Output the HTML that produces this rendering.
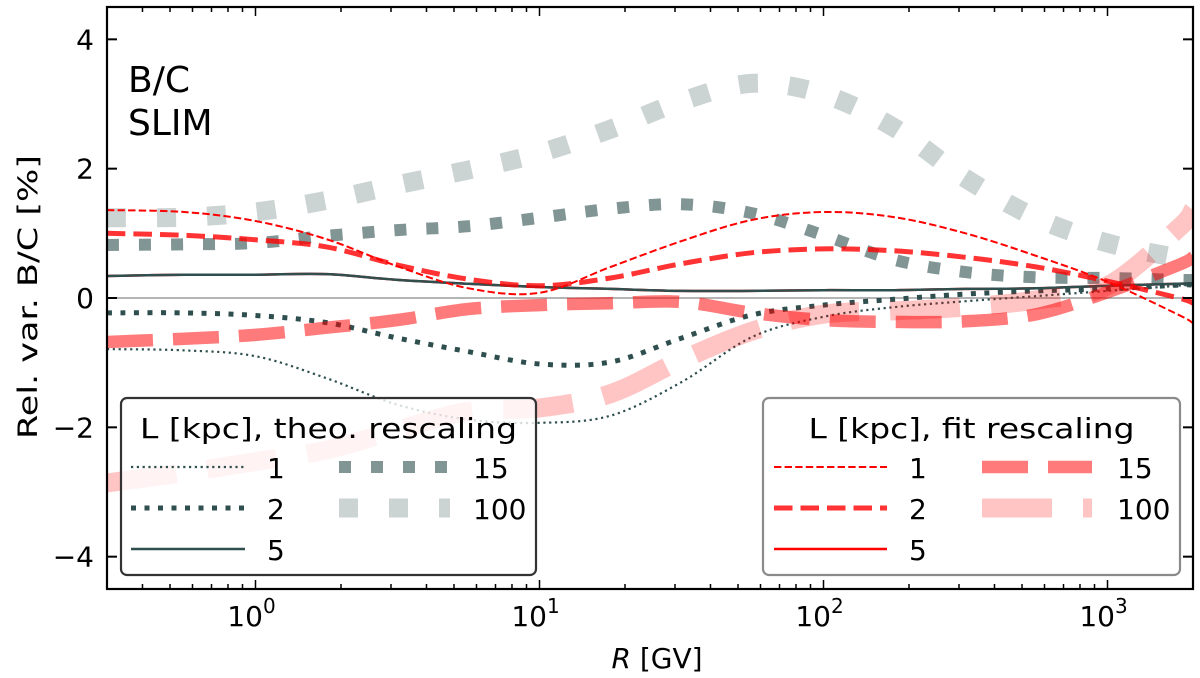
<!DOCTYPE html>
<html><head><meta charset="utf-8"><style>
html,body{margin:0;padding:0;background:#fff;}
svg{display:block;font-family:"DejaVu Sans","Liberation Sans",sans-serif;}
</style></head><body>
<svg id="chart" width="1200" height="678" viewBox="0 0 1200 678">
<defs><clipPath id="plotclip"><rect x="107" y="7" width="1086" height="582"/></clipPath></defs>
<rect width="1200" height="678" fill="#fff"/>
<g id="series" clip-path="url(#plotclip)"></g>
<g id="axes"></g>
<text x="128" y="92" font-size="36">B/C</text>
<text x="128" y="135" font-size="36">SLIM</text>
<g id="legends"></g>
<text transform="translate(37,297) rotate(-90)" text-anchor="middle" font-size="27" textLength="284" lengthAdjust="spacingAndGlyphs">Rel. var. B/C [%]</text>
<text x="657" y="668" text-anchor="middle" font-size="28"><tspan font-style="italic">R</tspan> [GV]</text>
</svg>
<script>
// ---- data ----
const rGrid = [0.3, 0.562, 1, 1.778, 3.162, 5.623, 10, 17.78, 31.62, 56.23, 100, 177.8, 316.2, 562.3, 1000, 1778, 2000];
const theoL1 = [-0.79, -0.81, -0.90, -1.24, -1.65, -1.88, -1.93, -1.82, -1.30, -0.60, -0.29, -0.14, -0.05, 0.03, 0.11, 0.19, 0.20];
const theoL2 = [-0.23, -0.23, -0.27, -0.38, -0.62, -0.83, -1.02, -0.99, -0.62, -0.26, -0.11, -0.02, 0.06, 0.11, 0.14, 0.20, 0.20];
const theoL5 = [0.34, 0.36, 0.36, 0.37, 0.28, 0.22, 0.17, 0.14, 0.11, 0.11, 0.12, 0.12, 0.14, 0.15, 0.19, 0.22, 0.23];
const theoL15 = [0.82, 0.83, 0.85, 0.96, 1.05, 1.11, 1.24, 1.38, 1.45, 1.31, 0.97, 0.59, 0.40, 0.32, 0.31, 0.28, 0.28];
const theoL100 = [1.24, 1.25, 1.33, 1.51, 1.75, 1.98, 2.24, 2.61, 3.04, 3.32, 3.15, 2.63, 1.85, 1.24, 0.85, 0.62, 0.59];
const fitL1 = [1.36, 1.33, 1.19, 0.91, 0.49, 0.15, 0.08, 0.48, 0.88, 1.21, 1.33, 1.25, 1.00, 0.65, 0.25, -0.26, -0.39];
const fitL2 = [1.00, 0.97, 0.90, 0.79, 0.51, 0.29, 0.19, 0.31, 0.53, 0.70, 0.76, 0.73, 0.63, 0.48, 0.26, 0.00, -0.08];
const fitL5 = [0.34, 0.36, 0.36, 0.37, 0.28, 0.22, 0.17, 0.14, 0.11, 0.11, 0.12, 0.12, 0.14, 0.15, 0.19, 0.22, 0.23];
const fitL15 = [-0.68, -0.63, -0.57, -0.46, -0.34, -0.17, -0.11, -0.08, -0.06, -0.23, -0.34, -0.37, -0.36, -0.25, 0.09, 0.51, 0.63];
const fitL100 = [-2.86, -2.70, -2.53, -2.35, -2.04, -1.75, -1.70, -1.48, -0.96, -0.51, -0.25, -0.20, -0.14, -0.03, 0.19, 1.08, 1.36];
const yTicks = [-4, -2, 0, 2, 4];
const xDecades = [0, 1, 2, 3];
const legendLabels = ["1", "2", "5", "15", "100"];

// ---- axes functions ----
const X0 = 107, X1 = 1193, Y0 = 7, Y1 = 589;
const xMin = Math.log10(0.3), xMax = Math.log10(2000);
const yMin = -4.5, yMax = 4.5;
function xs(r){ return X0 + (Math.log10(r) - xMin) / (xMax - xMin) * (X1 - X0); }
function ys(v){ return Y1 - (v - yMin) / (yMax - yMin) * (Y1 - Y0); }
const NS = "http://www.w3.org/2000/svg";
function mk(tag, attrs, parent){ const e = document.createElementNS(NS, tag); for (const k in attrs) e.setAttribute(k, attrs[k]); parent.appendChild(e); return e; }

function smoothPath(xv, yv){
  const p = xv.map((r,i)=>[xs(r), ys(yv[i])]);
  let d = "M" + p[0][0].toFixed(1) + "," + p[0][1].toFixed(1);
  for (let i=0;i<p.length-1;i++){
    const a = p[Math.max(i-1,0)], b = p[i], c = p[i+1], e = p[Math.min(i+2,p.length-1)];
    const c1 = [b[0]+(c[0]-a[0])/6, b[1]+(c[1]-a[1])/6];
    const c2 = [c[0]-(e[0]-b[0])/6, c[1]-(e[1]-b[1])/6];
    d += "C"+c1[0].toFixed(1)+","+c1[1].toFixed(1)+" "+c2[0].toFixed(1)+","+c2[1].toFixed(1)+" "+c[0].toFixed(1)+","+c[1].toFixed(1);
  }
  return d;
}

const DSG = "#2f4f4f";
const styles = {
  theoL1: {c:DSG, o:1, w:2.2, da:"2.2 3.6"},
  theoL2: {c:DSG, o:1, w:5, da:"5 8.5"},
  theoL5: {c:DSG, o:1, w:2.5, da:""},
  theoL15: {c:DSG, o:0.6, w:12, da:"12 20"},
  theoL100: {c:DSG, o:0.25, w:19, da:"19 31"},
  fitL1: {c:"#ff0000", o:1, w:2, da:"7.4 3.2"},
  fitL2: {c:"#ff0000", o:0.8, w:5, da:"18.5 8"},
  fitL5: {c:"#ff0000", o:1, w:2.5, da:""},
  fitL15: {c:"#ff0000", o:0.52, w:12.5, da:"46 20"},
  fitL100: {c:"#ff0000", o:0.23, w:19, da:"70 31"}
};

const sg = document.getElementById("series");
const zl = mk("line", {x1:X0, x2:X1, y1:ys(0), y2:ys(0), stroke:"#888", "stroke-width":1.2}, sg);



function drawSeries(key, vals){
  const s = styles[key];
  const el = mk("path", {d:smoothPath(rGrid, vals), fill:"none", stroke:s.c, "stroke-opacity":s.o, "stroke-width":s.w, "stroke-dasharray":s.da}, sg);
  
  
}
drawSeries("fitL5", fitL5);
drawSeries("theoL1", theoL1);
drawSeries("theoL2", theoL2);
drawSeries("theoL5", theoL5);
drawSeries("theoL15", theoL15);
drawSeries("theoL100", theoL100);
drawSeries("fitL1", fitL1);
drawSeries("fitL2", fitL2);
drawSeries("fitL15", fitL15);
drawSeries("fitL100", fitL100);

// ---- axes ----
const ax = document.getElementById("axes");
yTicks.forEach(v=>{
  const y = ys(v);
  const t1 = mk("line", {x1:X0, x2:X0+10, y1:y, y2:y, stroke:"#000", "stroke-width":2}, ax);
  
  
  const t2 = mk("line", {x1:X1-10, x2:X1, y1:y, y2:y, stroke:"#000", "stroke-width":2}, ax);
  
  
  const lb = mk("text", {x:94, y:y+10, "text-anchor":"end", "font-size":28}, ax);
  lb.textContent = v < 0 ? "\u2212" + Math.abs(v) : String(v);
  
  
});
for (let d=-1; d<=3; d++){
  for (let m=1; m<=9; m++){
    const r = m * Math.pow(10, d);
    if (r < 0.3 || r > 2000) continue;
    const x = xs(r), len = m===1 ? 9 : 5;
    const a = mk("line", {x1:x, x2:x, y1:Y1, y2:Y1-len, stroke:"#000", "stroke-width":1.5}, ax);
    
    
    const b = mk("line", {x1:x, x2:x, y1:Y0, y2:Y0+len, stroke:"#000", "stroke-width":1.5}, ax);
    
    
  }
}
xDecades.forEach(d=>{
  const x = xs(Math.pow(10,d));
  const lb = mk("text", {x:x-4, y:626, "text-anchor":"middle", "font-size":28}, ax);
  lb.textContent = "10";
  const sup = mk("tspan", {dy:-13, "font-size":20}, lb);
  sup.textContent = String(d);
  
  
});
const frame = mk("rect", {x:X0, y:Y0, width:X1-X0, height:Y1-Y0, fill:"none", stroke:"#000", "stroke-width":2.2}, ax);



// ---- legends ----
const lg = document.getElementById("legends");
function legend(name, bx, bw, border, title, titleLen, keys, c1x, c2x, t1x, t2x){
  const g = mk("g", {}, lg);
  
  
  mk("rect", {x:bx, y:398, width:bw, height:177, rx:6, fill:"#fff", "fill-opacity":0.8, stroke:border, "stroke-width":2.2}, g);
  const tt = mk("text", {x:bx+bw/2, y:438, "text-anchor":"middle", "font-size":28, textLength:titleLen, lengthAdjust:"spacingAndGlyphs"}, g);
  tt.textContent = title;
  
  
  const rows = [467, 508, 549];
  keys.forEach((k,i)=>{
    const col = i < 3 ? 0 : 1, row = i < 3 ? i : i-3;
    const s = styles[k];
    const y = rows[row];
    const hx = col===0 ? c1x : c2x;
    const ln = mk("line", {x1:hx[0], x2:hx[1], y1:y, y2:y, stroke:s.c, "stroke-opacity":s.o, "stroke-width":s.w, "stroke-dasharray":s.da}, g);
    
    
    const tx = mk("text", {x:col===0 ? t1x : t2x, y:y+11, "font-size":28}, g);
    tx.textContent = legendLabels[i];
    
    
  });
}
legend("legend-theo-rescaling", 121, 415, "#333", "L [kpc], theo. rescaling", 377,
  ["theoL1","theoL2","theoL5","theoL15","theoL100"], [131,245], [339,450], 267, 473);
legend("legend-fit-rescaling", 763, 417, "#8a8a8a", "L [kpc], fit rescaling", 326,
  ["fitL1","fitL2","fitL5","fitL15","fitL100"], [774,887], [982,1092], 909, 1117);
</script>
</body></html>
